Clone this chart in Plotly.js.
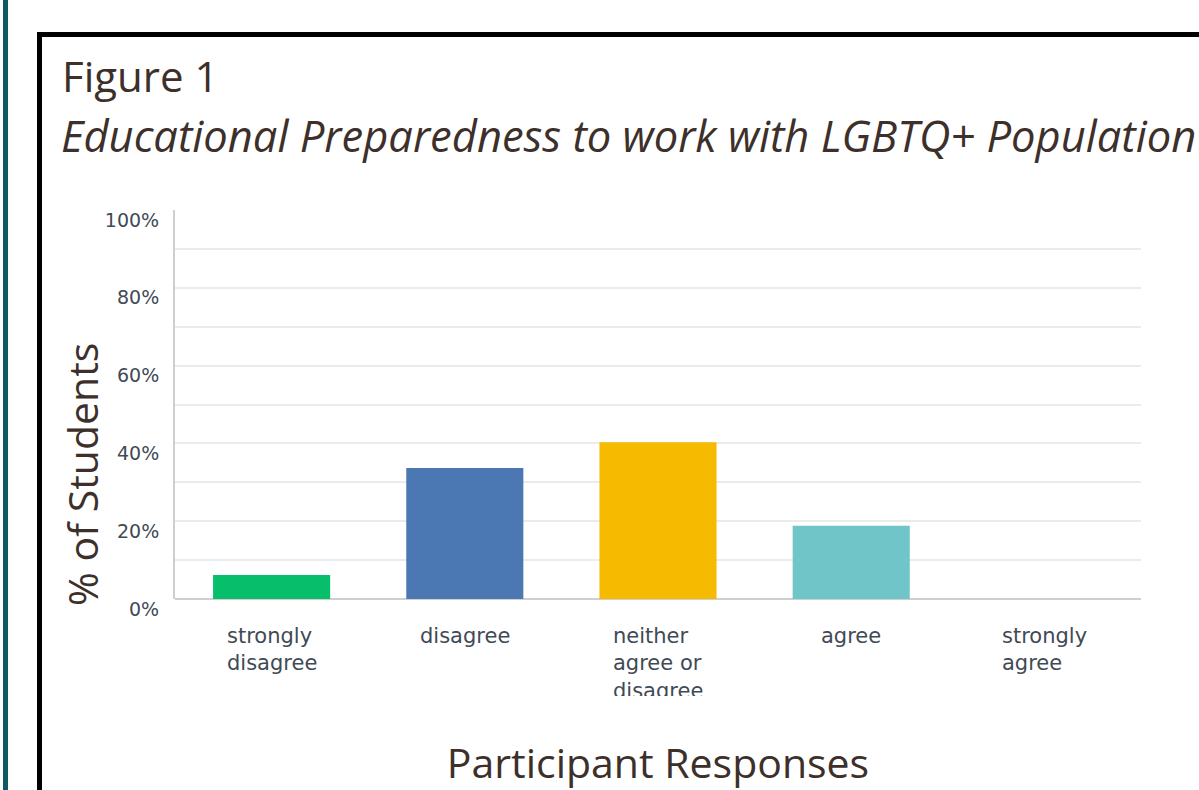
<!DOCTYPE html>
<html>
<head>
<meta charset="utf-8">
<script src="https://cdn.plot.ly/plotly-3.0.1.min.js"></script>
<style>
  html, body { margin: 0; padding: 0; background: #ffffff; overflow: hidden; }
  #wrap { position: relative; width: 1199px; height: 790px; }
  #chart { position: absolute; left: 0; top: 0; width: 1199px; height: 790px; }
  #teal { position: absolute; left: 3px; top: 0; width: 5px; height: 790px; background: #0d5a63; z-index: 2; }
  #frame { position: absolute; left: 37px; top: 32px; width: 1300px; height: 900px;
           border-left: 5px solid #000; border-top: 5px solid #000; z-index: 2; pointer-events: none; }
</style>
</head>
<body>
<div id="wrap">
  <div id="chart"></div>
  <div id="teal"></div>
  <div id="frame"></div>
</div>
<script>
// ---- data ----
const categories = ["strongly disagree", "disagree", "neither agree or disagree", "agree", "strongly agree"];
const categoryLabels = ["strongly<br>disagree", "disagree", "neither<br>agree or<br>disagree", "agree", "strongly<br>agree"];
const percentStudents = [6.2, 33.7, 40.3, 18.8, 0];
const barColors = ["#07bf6b", "#4b78b3", "#f6bb00", "#6fc5c8", "#8c8c8c"];
const yTickValues = [0, 20, 40, 60, 80, 100];
const yTickLabels = ["0%", "20%", "40%", "60%", "80%", "100%"];
const figureLabel = "Figure 1";
const figureTitle = "Educational Preparedness to work with LGBTQ+ Population";
const xTitle = "Participant Responses";
const yTitle = "% of Students";

// ---- geometry helpers (plot area px -> paper) ----
const W = 1199, H = 790;
const L = 175, R = 58, T = 210, B = 191;
const PW = W - L - R, PH = H - T - B;
const px = x => (x - L) / PW;
const py = y => (H - B - y) / PH;

const titleColor = "#3d302b";
const tickColor = "#3f4a55";

const trace = {
  type: "bar",
  x: categories,
  y: percentStudents,
  marker: { color: barColors, line: { width: 0 } },
  hoverinfo: "x+y"
};

const annotations = categories.map((c, i) => ({
  x: c, xref: "x", y: 0, yref: "paper",
  yanchor: "top", xanchor: "center", yshift: -23,
  text: categoryLabels[i], align: "left", showarrow: false,
  font: { family: "DejaVu Sans", size: 21, color: tickColor }
}));

// the source image cuts the tick-label area off just below y = 696px
annotations.push({
  x: px(658), xref: "paper", y: py(696), yref: "paper",
  xanchor: "center", yanchor: "top", showarrow: false,
  text: " ", width: 150, height: 22, bgcolor: "#ffffff", borderpad: 0, borderwidth: 0
});

annotations.push({
  x: px(59), xref: "paper", y: py(135), yref: "paper",
  xanchor: "left", yanchor: "middle", showarrow: false,
  text: "<i>" + figureTitle + "</i>",
  font: { family: "Open Sans", size: 43.5, color: titleColor }
});
annotations.push({
  x: px(82), xref: "paper", y: py(475), yref: "paper",
  xanchor: "center", yanchor: "middle", showarrow: false, textangle: -90,
  text: yTitle,
  font: { family: "Open Sans", size: 41, color: titleColor }
});

const layout = {
  width: W, height: H,
  margin: { l: L, r: R, t: T, b: B, pad: 0 },
  paper_bgcolor: "#ffffff",
  plot_bgcolor: "#ffffff",
  showlegend: false,
  bargap: 0.394,
  title: {
    text: figureLabel,
    x: 62 / W, xref: "container", xanchor: "left",
    y: 1 - 77 / H, yref: "container", yanchor: "middle",
    font: { family: "Open Sans", size: 42, color: titleColor }
  },
  xaxis: {
    type: "category",
    showticklabels: false,
    ticks: "",
    showgrid: false,
    showline: false,
    zeroline: false,
    fixedrange: true,
    title: {
      text: xTitle, standoff: 157,
      font: { family: "Open Sans", size: 41, color: titleColor }
    }
  },
  yaxis: {
    range: [0, 100],
    tickmode: "array",
    tickvals: yTickValues,
    ticktext: yTickLabels,
    ticks: "",
    showgrid: true,
    gridcolor: "#ebebeb",
    gridwidth: 2,
    minor: { dtick: 10, showgrid: true, gridcolor: "#ebebeb", gridwidth: 2 },
    showline: true,
    linecolor: "#cfcfcf",
    linewidth: 2,
    zeroline: true,
    zerolinecolor: "#cfcfcf",
    zerolinewidth: 2,
    ticklabelstandoff: 10,
    ticklabelshift: 10,
    tickfont: { family: "DejaVu Sans", size: 19, color: tickColor },
    fixedrange: true
  },
  annotations: annotations
};

Plotly.newPlot("chart", [trace], layout, { displayModeBar: false, staticPlot: true });
</script>
</body>
</html>
